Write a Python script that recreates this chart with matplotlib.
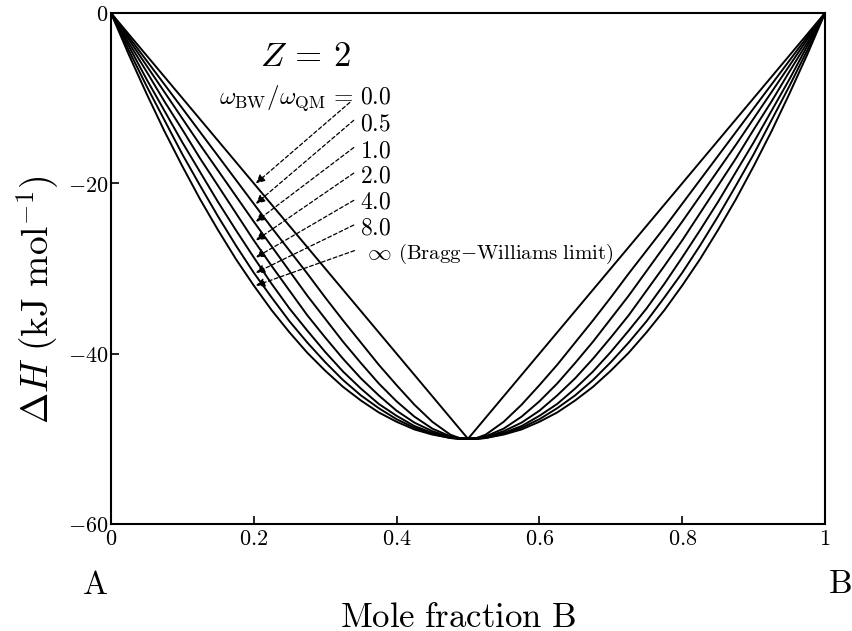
import numpy as np
import matplotlib
matplotlib.use("Agg")
import matplotlib.pyplot as plt

plt.rcParams['mathtext.fontset'] = 'cm'
plt.rcParams['font.family'] = 'serif'

# mole fraction B
x = [0.0, 0.025, 0.05, 0.075, 0.1, 0.125, 0.15, 0.175, 0.2, 0.225, 0.25, 0.275,
     0.3, 0.325, 0.35, 0.375, 0.4, 0.425, 0.45, 0.475, 0.4875, 0.5,
     0.5125, 0.525, 0.55, 0.575, 0.6, 0.625, 0.65, 0.675, 0.7, 0.725, 0.75,
     0.775, 0.8, 0.825, 0.85, 0.875, 0.9, 0.925, 0.95, 0.975, 1.0]

# enthalpy of mixing (kJ/mol), one curve per ratio w_BW/w_QM
dh_00 = [0, -2.5, -5.0, -7.5, -10.0, -12.5, -15.0, -17.5, -20.0, -22.5, -25.0, -27.5,
         -30.0, -32.5, -35.0, -37.5, -40.0, -42.5, -45.0, -47.5, -48.75, -50.0,
         -48.75, -47.5, -45.0, -42.5, -40.0, -37.5, -35.0, -32.5, -30.0, -27.5, -25.0,
         -22.5, -20.0, -17.5, -15.0, -12.5, -10.0, -7.5, -5.0, -2.5, 0]
dh_05 = [0, -2.8, -5.6, -8.4, -11.2, -14.0, -16.8, -19.6, -22.4, -25.2, -27.9, -30.6,
         -33.4, -36.1, -38.7, -41.3, -43.7, -46.0, -48.0, -49.5, -49.9, -50.0,
         -49.9, -49.5, -48.0, -46.0, -43.7, -41.3, -38.7, -36.1, -33.4, -30.6, -27.9,
         -25.2, -22.4, -19.6, -16.8, -14.0, -11.2, -8.4, -5.6, -2.8, 0]
dh_10 = [0, -3.1, -6.2, -9.3, -12.4, -15.5, -18.5, -21.5, -24.5, -27.4, -30.3, -33.2,
         -35.9, -38.6, -41.1, -43.5, -45.6, -47.4, -48.8, -49.7, -49.9, -50.0,
         -49.9, -49.7, -48.8, -47.4, -45.6, -43.5, -41.1, -38.6, -35.9, -33.2, -30.3,
         -27.4, -24.5, -21.5, -18.5, -15.5, -12.4, -9.3, -6.2, -3.1, 0]
dh_20 = [0, -3.5, -6.9, -10.4, -13.7, -17.1, -20.3, -23.5, -26.7, -29.7, -32.6, -35.5,
         -38.1, -40.6, -42.9, -44.9, -46.7, -48.1, -49.1, -49.8, -49.9, -50.0,
         -49.9, -49.8, -49.1, -48.1, -46.7, -44.9, -42.9, -40.6, -38.1, -35.5, -32.6,
         -29.7, -26.7, -23.5, -20.3, -17.1, -13.7, -10.4, -6.9, -3.5, 0]
dh_40 = [0, -3.9, -7.8, -11.5, -15.2, -18.7, -22.2, -25.5, -28.7, -31.8, -34.7, -37.3,
         -39.8, -42.1, -44.1, -45.9, -47.3, -48.5, -49.3, -49.8, -50.0, -50.0,
         -50.0, -49.8, -49.3, -48.5, -47.3, -45.9, -44.1, -42.1, -39.8, -37.3, -34.7,
         -31.8, -28.7, -25.5, -22.2, -18.7, -15.2, -11.5, -7.8, -3.9, 0]
dh_80 = [0, -4.4, -8.6, -12.6, -16.6, -20.3, -23.9, -27.3, -30.5, -33.4, -36.2, -38.7,
         -41.0, -43.1, -44.9, -46.4, -47.7, -48.7, -49.4, -49.9, -50.0, -50.0,
         -50.0, -49.9, -49.4, -48.7, -47.7, -46.4, -44.9, -43.1, -41.0, -38.7, -36.2,
         -33.4, -30.5, -27.3, -23.9, -20.3, -16.6, -12.6, -8.6, -4.4, 0]
dh_inf = [0, -4.9, -9.5, -13.9, -18.0, -21.9, -25.5, -28.9, -32.0, -34.9, -37.5, -39.9,
          -42.0, -43.9, -45.5, -46.9, -48.0, -48.9, -49.5, -49.9, -50.0, -50.0,
          -50.0, -49.9, -49.5, -48.9, -48.0, -46.9, -45.5, -43.9, -42.0, -39.9, -37.5,
          -34.9, -32.0, -28.9, -25.5, -21.9, -18.0, -13.9, -9.5, -4.9, 0]

curves = [dh_00, dh_05, dh_10, dh_20, dh_40, dh_80, dh_inf]
ratio_labels = ['0.0', '0.5', '1.0', '2.0', '4.0', '8.0', r'\infty']
# where each arrow points (x = 0.2 on each curve)
arrow_x = 0.2
arrow_y = [-20.0, -22.4, -24.5, -26.7, -28.7, -30.5, -32.0]

xticks = [0, 0.2, 0.4, 0.6, 0.8, 1]
xticklabels = ['0', '0.2', '0.4', '0.6', '0.8', '1']
yticks = [0, -20, -40, -60]
yticklabels = ['0', '-20', '-40', '-60']

fig = plt.figure(figsize=(8.53, 6.31), dpi=100)
ax = fig.add_axes([0.1301, 0.1696, 0.8371, 0.8098])

for dh in curves:
    ax.plot(x, dh, color='k', lw=1.4)

ax.set_xlim(0, 1)
ax.set_ylim(-60, 0)
ax.set_xticks(xticks)
ax.set_xticklabels(['$' + t + '$' for t in xticklabels], fontsize=16)
ax.set_yticks(yticks)
ax.set_yticklabels(['$' + t + '$' for t in yticklabels], fontsize=16)
ax.tick_params(direction='in', length=6, width=1.2, top=False, right=False)
ax.tick_params(axis='x', pad=3)
ax.tick_params(axis='y', pad=2)
for s in ax.spines.values():
    s.set_linewidth(1.5)

# labels for the ratios
ax.text(0.2715, -5.1, r'$Z\,=\,2$', fontsize=25, ha='center', va='center')
ax.text(0.340, -10.6, r'$\omega_{\mathrm{BW}}/\omega_{\mathrm{QM}}\,=$', fontsize=18,
        ha='right', va='baseline')
text_base = [-10.6, -13.8, -17.0, -19.9, -22.9, -26.0, -28.9]
start_x = [0.3345, 0.340, 0.340, 0.340, 0.340, 0.340, 0.341]
start_y = [-10.5, -12.6, -15.8, -18.8, -22.0, -24.9, -27.9]
for i, lab in enumerate(ratio_labels):
    xl = 0.3485 if i < 6 else 0.358
    ax.text(xl, text_base[i], '$' + lab + '$', fontsize=17, ha='left', va='baseline')
    ax.annotate('', xy=(arrow_x + 0.003, arrow_y[i]), xytext=(start_x[i], start_y[i]),
                arrowprops=dict(arrowstyle='-|>', color='k', lw=0.9,
                                ls=(0, (3, 2)), mutation_scale=13,
                                shrinkA=0, shrinkB=0))
ax.text(0.402, text_base[6], r'$\mathrm{(Bragg{-}Williams\ limit)}$', fontsize=15,
        ha='left', va='baseline')

fig.text(38 / 853, 1 - 300 / 631, r'$\Delta H\ \mathrm{(kJ\ mol^{-1})}$', fontsize=27,
         rotation=90, ha='center', va='center')
fig.text(458 / 853, 4 / 631, r'$\mathrm{Mole\ fraction\ B}$', fontsize=25,
         ha='center', va='baseline')
fig.text(95 / 853, 1 - 585 / 631, r'$\mathrm{A}$', fontsize=24, ha='center', va='center')
fig.text(840 / 853, 1 - 584 / 631, r'$\mathrm{B}$', fontsize=24, ha='center', va='center')

fig.savefig('out.png', dpi=100)
